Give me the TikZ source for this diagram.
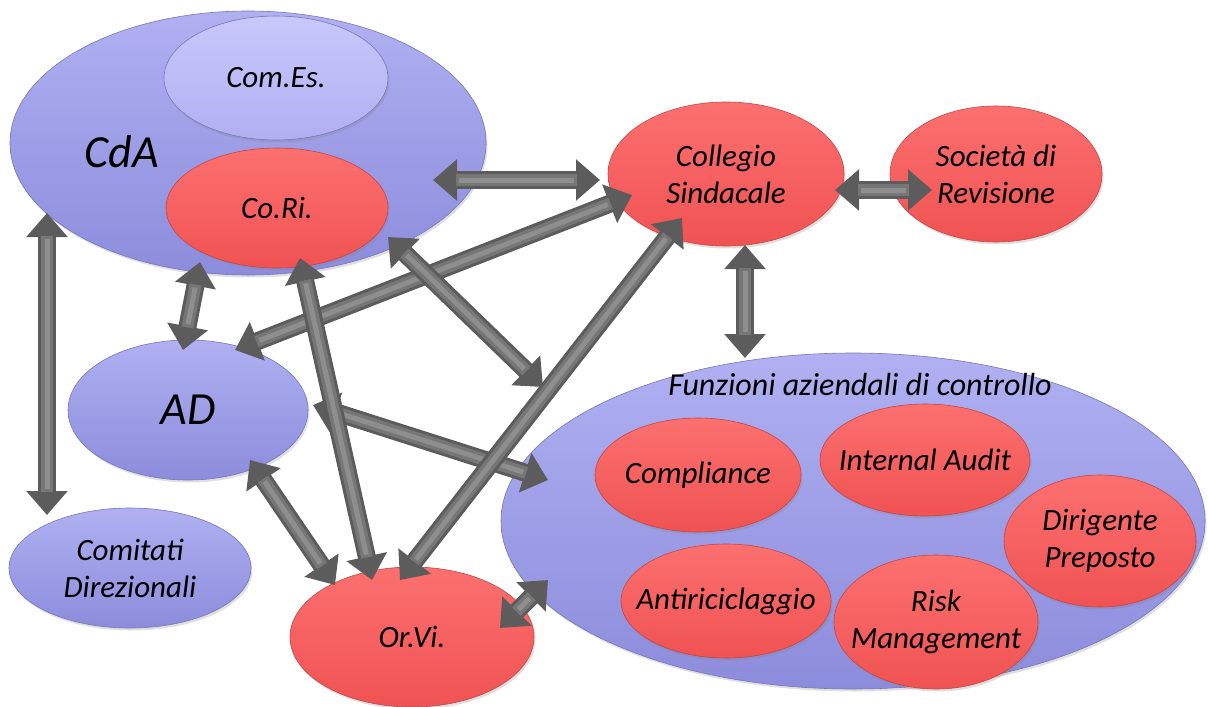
\documentclass[tikz,border=0pt]{standalone}
\usepackage{fontspec}
\setmainfont{Carlito}
\usetikzlibrary{arrows.meta,shapes.geometric,shadows}
\definecolor{bluetop}{RGB}{176,176,242}
\definecolor{bluebot}{RGB}{140,140,220}
\definecolor{blueedge}{RGB}{118,118,188}
\definecolor{paletop}{RGB}{200,200,252}
\definecolor{palebot}{RGB}{176,176,242}
\definecolor{redtop}{RGB}{252,112,112}
\definecolor{redbot}{RGB}{240,82,82}
\definecolor{rededge}{RGB}{196,70,70}
\definecolor{arrowdark}{RGB}{92,92,92}
\definecolor{arrowgray}{RGB}{118,118,118}
\definecolor{arrowlight}{RGB}{142,142,142}

\begin{document}
\begin{tikzpicture}[x=1pt,y=-1pt,
  ell/.style={ellipse,inner ysep=0pt,inner xsep=-20pt,align=center,line width=0.6pt,
              font=\fontsize{31}{37}\selectfont\itshape,
              drop shadow={shadow xshift=1.5pt,shadow yshift=-2.5pt,opacity=0.25}},
  blueell/.style={ell,draw=blueedge,top color=bluetop,bottom color=bluebot},
  paleell/.style={ell,draw=blueedge,top color=paletop,bottom color=palebot},
  redell/.style={ell,draw=rededge,top color=redtop,bottom color=redbot},
  bigtext/.style={font=\fontsize{46}{52}\selectfont\itshape},
  biarrow/.style={{Triangle[width=40pt,length=24pt]}-{Triangle[width=40pt,length=24pt]},
                  line width=18pt,draw=arrowdark,
                  postaction={draw=arrowgray,line width=12pt,-,shorten <=23pt,shorten >=23pt},
                  postaction={draw=arrowlight,line width=5pt,-,shorten <=26pt,shorten >=26pt}}
]
\useasboundingbox (0,0) rectangle (1208,707);

\node[blueell,minimum width=476pt,minimum height=264pt] (cda) at (248,143) {};
\node[bigtext] (cdatext) at (122,152) {CdA};
\node[paleell,minimum width=224pt,minimum height=124pt] (comes) at (276,78) {Com.Es.};
\node[redell,minimum width=222pt,minimum height=120pt] (cori) at (277,208) {Co.Ri.};
\node[redell,minimum width=236pt,minimum height=144pt] (coll) at (726,174) {Collegio\\Sindacale};
\node[redell,minimum width=212pt,minimum height=136pt] (soc) at (996,174) {Società di\\Revisione};
\node[blueell,bigtext,minimum width=240pt,minimum height=140pt] (ad) at (188,410) {AD};
\node[blueell,minimum width=242pt,minimum height=120pt] (comit) at (130,568) {Comitati\\Direzionali};
\node[redell,minimum width=244pt,minimum height=140pt] (orvi) at (412,637) {Or.Vi.};

\node[blueell,minimum width=704pt,minimum height=336pt] (funz) at (853,521) {};
\node[font=\fontsize{32}{38}\selectfont\itshape] (funztext) at (860,385) {Funzioni aziendali di controllo};
\node[redell,minimum width=206pt,minimum height=114pt] (compl) at (698,475) {Compliance};
\node[redell,minimum width=210pt,minimum height=112pt] (audit) at (925,460) {Internal Audit};
\node[redell,minimum width=192pt,minimum height=132pt] (dirig) at (1100,541) {Dirigente\\Preposto};
\node[redell,minimum width=210pt,minimum height=114pt] (antiric) at (726,601) {Antiriciclaggio};
\node[redell,minimum width=204pt,minimum height=134pt] (risk) at (936,622) {Risk\\Management};

\coordinate (gap) at (543,387);

\draw[biarrow] ([shift={(185,37)}]cda.center) -- ([shift={(-126,6)}]coll.center);
\draw[biarrow] ([shift={(109,16)}]coll.center) -- ([shift={(-64,16)}]soc.center);
\draw[biarrow] ([shift={(19,71)}]coll.center) -- ([shift={(-108,-163)}]funz.center);
\draw[biarrow] ([shift={(-201,70)}]cda.center) -- ([shift={(-83,-53)}]comit.center);
\draw[biarrow] ([shift={(-48,119)}]cda.center) -- ([shift={(-5,-60)}]ad.center);
\draw[biarrow] ([shift={(47,-60)}]ad.center) -- ([shift={(-94,21)}]coll.center);
\draw[biarrow] ([shift={(111,29)}]cori.center) -- (gap);
\draw[biarrow] ([shift={(125,-5)}]ad.center) -- ([shift={(-305,-41)}]funz.center);
\draw[biarrow] ([shift={(62,50)}]ad.center) -- ([shift={(-77,-52)}]orvi.center);
\draw[biarrow] ([shift={(-44,44)}]coll.center) -- ([shift={(-12,-57)}]orvi.center);
\draw[biarrow] ([shift={(23,50)}]cori.center) -- ([shift={(-40,-57)}]orvi.center);
\draw[biarrow] ([shift={(88,-9)}]orvi.center) -- ([shift={(-305,59)}]funz.center);
\end{tikzpicture}
\end{document}
